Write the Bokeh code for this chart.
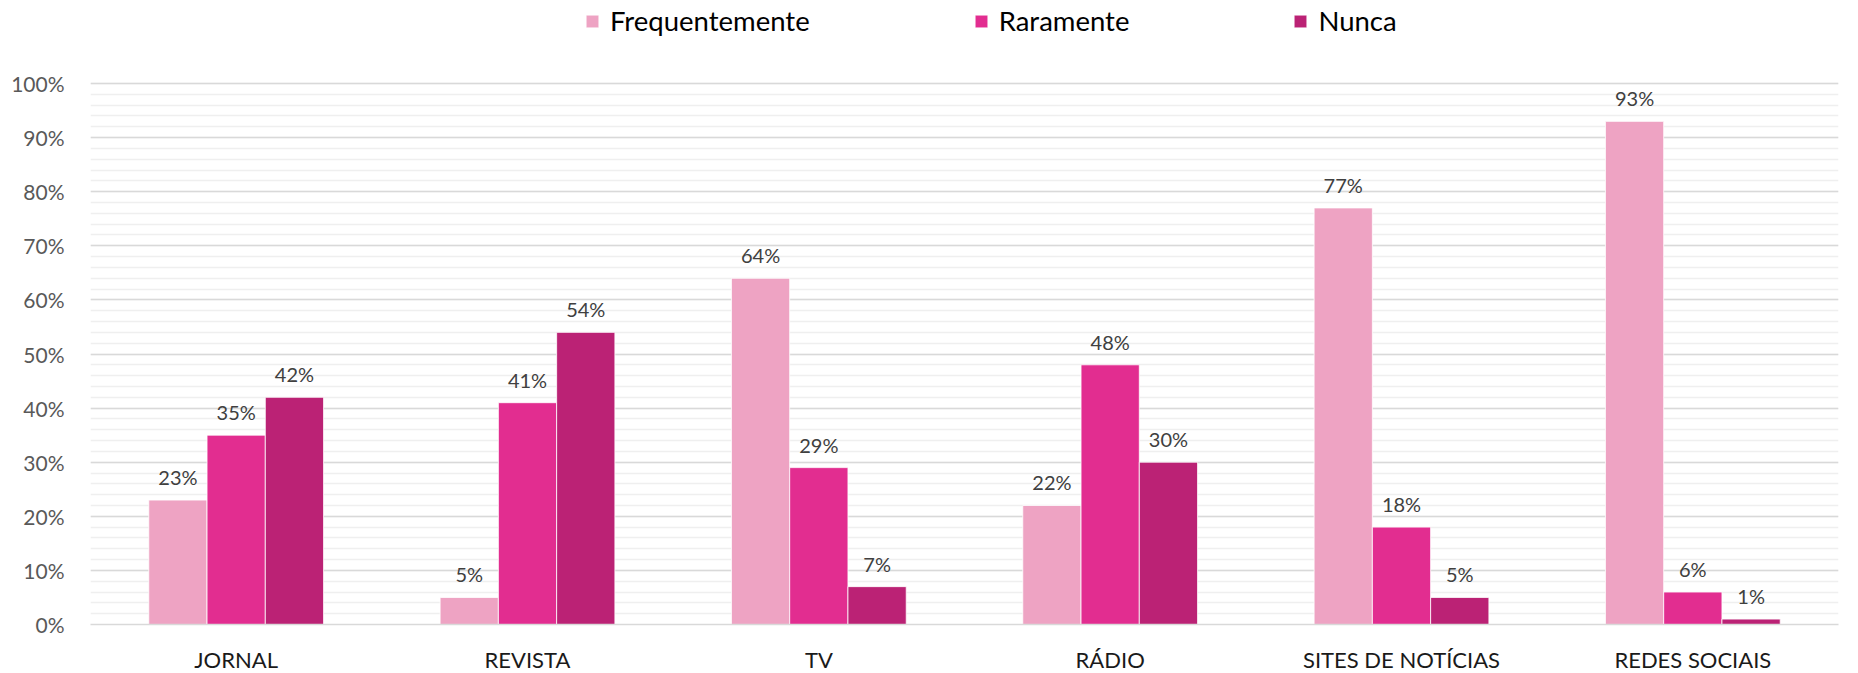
from bokeh.plotting import figure
from bokeh.models import (ColumnDataSource, FactorRange, Range1d, Legend, LegendItem,
                          FixedTicker, PrintfTickFormatter)
from bokeh.transform import dodge
from bokeh.embed import file_html
from bokeh.resources import INLINE

categories = ["JORNAL", "REVISTA", "TV", "RÁDIO", "SITES DE NOTÍCIAS", "REDES SOCIAIS"]
series_names = ["Frequentemente", "Raramente", "Nunca"]
frequentemente = [23, 5, 64, 22, 77, 93]
raramente = [35, 41, 29, 48, 18, 6]
nunca = [42, 54, 7, 30, 5, 1]
colors = ["#EEA3C3", "#E22D90", "#BB2275"]
y_ticks = list(range(0, 101, 10))
y_minor_ticks = list(range(0, 101, 2))

FONT = "Lato"
source = ColumnDataSource(dict(
    cat=categories,
    f=frequentemente, r=raramente, n=nunca,
    fl=[f"{v}%" for v in frequentemente],
    rl=[f"{v}%" for v in raramente],
    nl=[f"{v}%" for v in nunca],
))

# frame spans the full height above the axis; 100% sits 83px below the top
FRAME_H = 624
PLOT_H = 541
p = figure(x_range=FactorRange(*categories), y_range=Range1d(0, 100 * FRAME_H / PLOT_H),
           frame_width=1748, frame_height=FRAME_H,
           output_backend="svg", toolbar_location=None,
           min_border_left=90, min_border_right=20,
           min_border_top=0, min_border_bottom=0)
p.outline_line_color = None

offsets = [-0.2, 0.0, 0.2]
fields = ["f", "r", "n"]
lfields = ["fl", "rl", "nl"]
renderers = []
for off, fld, lf, col in zip(offsets, fields, lfields, colors):
    xx = dodge("cat", off, range=p.x_range)
    r = p.vbar(x=xx, top=fld, width=0.2, source=source, fill_color=col,
               line_color="white", line_width=0.8)
    renderers.append(r)
    p.text(x=xx, y=fld, text=lf, source=source, text_align="center",
           text_baseline="middle", y_offset=-23, text_font_size="20px",
           text_color="#404040", text_font={"value": FONT})

# axes
p.yaxis.ticker = FixedTicker(ticks=y_ticks, minor_ticks=y_minor_ticks)
p.yaxis.formatter = PrintfTickFormatter(format="%d%%")
p.yaxis.axis_line_color = None
p.yaxis.major_tick_line_color = None
p.yaxis.minor_tick_line_color = None
p.yaxis.major_label_text_font = FONT
p.yaxis.major_label_text_font_size = "21px"
p.yaxis.major_label_text_color = "#595959"
p.yaxis.major_label_standoff = 20

p.xaxis.axis_line_color = "#D9D9D9"
p.xaxis.axis_line_width = 1.5
p.xaxis.major_tick_line_color = None
p.xaxis.minor_tick_line_color = None
p.xaxis.major_label_text_font = FONT
p.xaxis.major_label_text_font_size = "22px"
p.xaxis.major_label_text_color = "#1a1a1a"
p.xaxis.major_label_standoff = 15

p.xgrid.grid_line_color = None
p.ygrid.grid_line_color = "#D9D9D9"
p.ygrid.grid_line_width = 1.5
p.ygrid.minor_grid_line_color = "#EFEFEF"
p.ygrid.minor_grid_line_width = 1.5

legend = Legend(items=[LegendItem(label=s, renderers=[r]) for s, r in zip(series_names, renderers)],
                orientation="horizontal", location=(494, 587),
                label_text_font=FONT, label_text_font_size="27.5px",
                label_text_color="#000000", glyph_width=16, glyph_height=16,
                label_standoff=10, spacing=163, padding=0, margin=0,
                border_line_color=None, background_fill_alpha=0)
p.add_layout(legend, "center")

open("out.html", "w").write(file_html(p, INLINE))
